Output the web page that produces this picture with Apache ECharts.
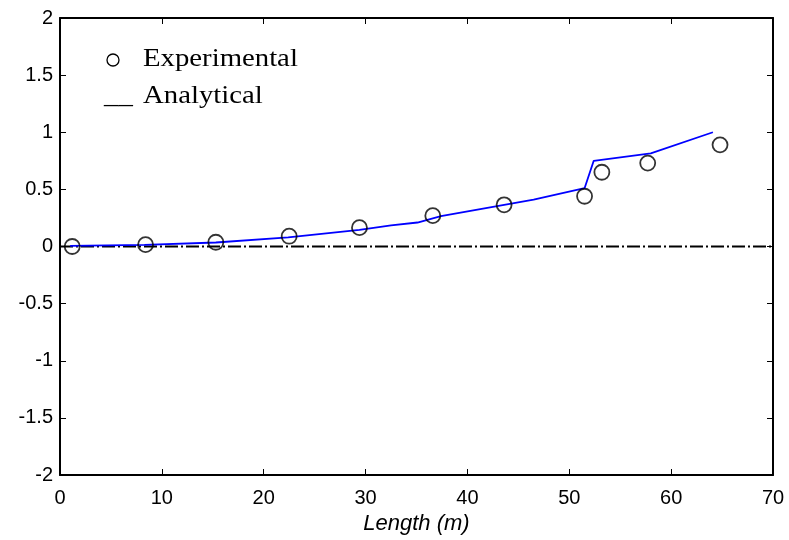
<!DOCTYPE html>
<html>
<head>
<meta charset="utf-8">
<script src="https://cdn.jsdelivr.net/npm/echarts@6/dist/echarts.min.js"></script>
<style>
  html, body { margin: 0; padding: 0; background: #fff; }
  #chart { width: 789px; height: 540px; }
</style>
</head>
<body>
<div id="chart"></div>
<script>
var expX = [1.2, 8.4, 15.3, 22.5, 29.4, 36.6, 43.6, 51.5, 53.2, 57.7, 64.8];
var expY = [0.0, 0.016, 0.037, 0.09, 0.165, 0.27, 0.365, 0.44, 0.65, 0.73, 0.89];

var fitX = [1.0, 8.3, 15.3, 22.4, 29.4, 32.5, 35.1, 37.4, 46.5, 51.5, 52.4, 58.0, 64.1];
var fitY = [0.005, 0.015, 0.035, 0.08, 0.145, 0.185, 0.21, 0.265, 0.41, 0.51, 0.75, 0.815, 1.0];

var refX = [0, 70];
var refY = [0, 0];

function pairs(xs, ys) {
    return xs.map(function (x, i) { return [x, ys[i]]; });
}

var chart = echarts.init(document.getElementById('chart'));

var sans = 'Liberation Sans, Arial, sans-serif';
var serifFont = '25px "Liberation Serif", "Times New Roman", serif';
var labelStyle = { color: '#000', fontSize: 20, fontFamily: sans };
var lineStyle = { color: '#000', width: 2 };
var tickStyle = { inside: true, length: 6, lineStyle: { color: '#000', width: 1 } };

var option = {
    animation: false,
    backgroundColor: '#fff',
    grid: { left: 60, right: 16, top: 18, bottom: 63, containLabel: false },
    xAxis: [{
        type: 'value', min: 0, max: 70, interval: 10,
        name: 'Length (m)', nameLocation: 'middle', nameGap: 38,
        nameTextStyle: { color: '#000', fontSize: 22, fontStyle: 'italic', fontFamily: sans },
        axisLine: { onZero: false, lineStyle: lineStyle },
        axisTick: tickStyle,
        axisLabel: Object.assign({ margin: 13 }, labelStyle),
        splitLine: { show: false }
    }, {
        type: 'value', position: 'top', min: 0, max: 70, interval: 10,
        axisLine: { onZero: false, lineStyle: lineStyle },
        axisTick: tickStyle,
        axisLabel: { show: false },
        splitLine: { show: false }
    }],
    yAxis: [{
        type: 'value', min: -2, max: 2, interval: 0.5,
        axisLine: { onZero: false, lineStyle: lineStyle },
        axisTick: tickStyle,
        axisLabel: Object.assign({ margin: 7 }, labelStyle),
        splitLine: { show: false }
    }, {
        type: 'value', position: 'right', min: -2, max: 2, interval: 0.5,
        axisLine: { onZero: false, lineStyle: lineStyle },
        axisTick: tickStyle,
        axisLabel: { show: false },
        splitLine: { show: false }
    }],
    series: [{
        name: 'Analytical zero',
        type: 'line',
        data: pairs(refX, refY),
        symbol: 'none',
        lineStyle: { color: '#000', width: 2, type: [13, 3, 2, 3] },
        z: 2
    }, {
        name: 'Analytical',
        type: 'line',
        data: pairs(fitX, fitY),
        symbol: 'none',
        lineStyle: { color: '#0000ff', width: 1.8 },
        z: 3
    }, {
        name: 'Experimental',
        type: 'scatter',
        data: pairs(expX, expY),
        symbol: 'circle',
        symbolSize: 15,
        itemStyle: { color: 'rgba(0,0,0,0)', borderColor: '#000', borderWidth: 1.8 },
        z: 4
    }],
    graphic: [{
        type: 'circle', shape: { cx: 113, cy: 60, r: 6 },
        style: { fill: 'none', stroke: '#000', lineWidth: 1.3 }
    }, {
        type: 'text', x: 143, y: 47, scaleX: 1.15,
        style: { text: 'Experimental', fill: '#000', font: serifFont }
    }, {
        type: 'text', x: 104, y: 84, scaleX: 1.15,
        style: { text: '__', fill: '#000', font: serifFont }
    }, {
        type: 'text', x: 143, y: 84, scaleX: 1.15,
        style: { text: 'Analytical', fill: '#000', font: serifFont }
    }]
};

chart.setOption(option);
</script>
</body>
</html>
